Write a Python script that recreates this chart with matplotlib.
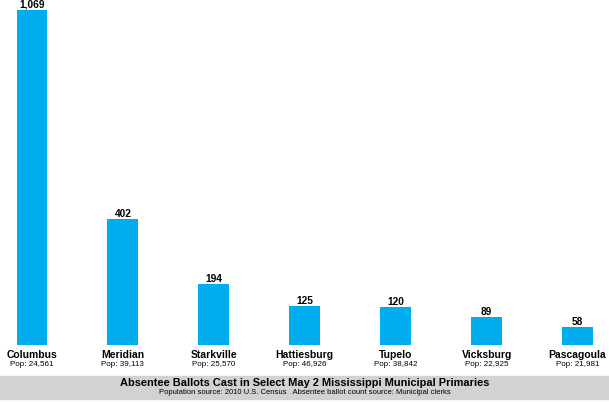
import matplotlib
matplotlib.use('Agg')
from matplotlib import pyplot as plt
from matplotlib.patches import Rectangle
from matplotlib.transforms import blended_transform_factory

cities = ['Columbus', 'Meridian', 'Starkville', 'Hattiesburg', 'Tupelo', 'Vicksburg', 'Pascagoula']
ballots = [1069, 402, 194, 125, 120, 89, 58]
pops = ['24,561', '39,113', '25,570', '46,926', '38,842', '22,925', '21,981']

title = 'Absentee Ballots Cast in Select May 2 Mississippi Municipal Primaries'
source = 'Population source: 2010 U.S. Census   Absentee ballot count source: Municipal clerks'

plt.rcParams['font.family'] = ['Liberation Sans', 'DejaVu Sans']
blue = '#00AEEF'

fig = plt.figure(figsize=(6.09, 4.05), dpi=100)
ax = fig.add_axes([0, 0.148, 1, 0.852])

x = list(range(len(cities)))
ax.bar(x, ballots, width=0.34, color=blue)
ax.set_xlim(-0.352, 6.346)
ax.set_ylim(0, 1101)
ax.axis('off')

for i, v in enumerate(ballots):
    ax.annotate(f'{v:,}', (i, v), xytext=(0, 1.6), textcoords='offset points',
                ha='center', va='baseline', fontsize=7.3, fontweight='bold')

tr = blended_transform_factory(ax.transData, fig.transFigure)
for i, (c, p) in enumerate(zip(cities, pops)):
    ax.text(i, 0.1235, c, transform=tr, ha='center', va='center',
            fontsize=7.5, fontweight='bold')
    ax.text(i, 0.1004, 'Pop: ' + p, transform=tr, ha='center', va='center',
            fontsize=5.8)

# gray band at the bottom
fig.patches.append(Rectangle((0, 0.0155), 1, 0.0562, transform=fig.transFigure,
                             color='#d2d2d2', zorder=0))
fig.text(0.5, 0.0545, title, ha='center', va='center', fontsize=7.9, fontweight='bold')
fig.text(0.5, 0.0304, source, ha='center', va='center', fontsize=5.5)

fig.savefig('out.png', dpi=100)
